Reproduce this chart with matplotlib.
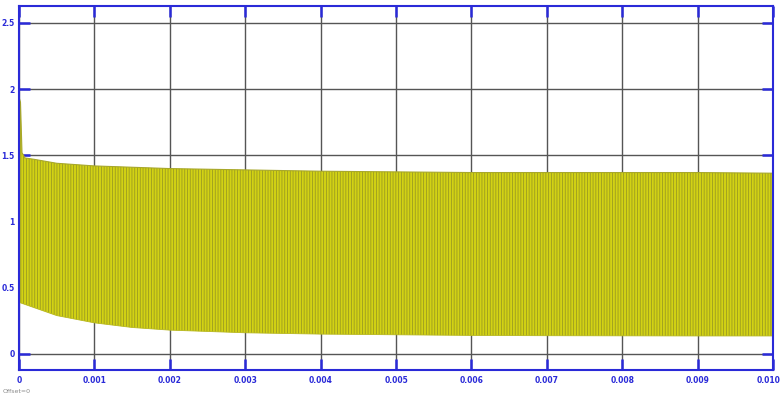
import matplotlib
matplotlib.use("Agg")
import matplotlib.pyplot as plt
import matplotlib.transforms as mtransforms
import numpy as np

# Envelope of the switched waveform (seconds, volts)
t_upper = [0.0, 0.00002, 0.00004, 0.00008, 0.0002, 0.0005, 0.001, 0.002,
           0.003, 0.004, 0.005, 0.006, 0.007, 0.008, 0.009, 0.010]
v_upper = [1.94, 1.90, 1.52, 1.48, 1.47, 1.44, 1.42, 1.40,
           1.39, 1.38, 1.375, 1.37, 1.37, 1.37, 1.37, 1.365]
t_lower = [0.0, 0.0002, 0.0005, 0.001, 0.0015, 0.002, 0.003, 0.004, 0.005,
           0.006, 0.007, 0.008, 0.009, 0.010]
v_lower = [0.39, 0.35, 0.29, 0.235, 0.20, 0.18, 0.16, 0.15, 0.145,
           0.14, 0.138, 0.137, 0.136, 0.136]

x_ticks = [0, 0.001, 0.002, 0.003, 0.004, 0.005, 0.006, 0.007, 0.008, 0.009, 0.010]
x_labels = ["0", "0.001", "0.002", "0.003", "0.004", "0.005", "0.006",
            "0.007", "0.008", "0.009", "0.010"]
y_ticks = [0, 0.5, 1, 1.5, 2, 2.5]
y_labels = ["0", "0.5", "1", "1.5", "2", "2.5"]

blue = "#2a2ad8"

fig = plt.figure(figsize=(7.81, 3.98), dpi=100)
ax = fig.add_axes([0.0243, 0.0704, 0.9655, 0.9146])

ax.set_xlim(0, 0.010)
ax.set_ylim(-0.121, 2.628)

ax.grid(True, color="#555555", linewidth=1.0, zorder=0)
ax.set_axisbelow(True)

# Shared time base for the band so both edges line up
t_band = np.union1d(t_upper, t_lower)
up = np.interp(t_band, t_upper, v_upper)
lo = np.interp(t_band, t_lower, v_lower)
plt.rcParams["hatch.linewidth"] = 0.6
ax.fill_between(t_band, lo, up, facecolor="#d2d214", edgecolor="#9a9a22",
                hatch="||||||", linewidth=0.0, zorder=2)
ax.plot(t_upper, v_upper, color="#a8a82a", linewidth=0.8, zorder=3)
ax.plot(t_lower, v_lower, color="#b8b820", linewidth=0.6, zorder=3)

ax.set_xticks(x_ticks)
ax.set_xticklabels(x_labels)
ax.set_yticks(y_ticks)
ax.set_yticklabels(y_labels)

ax.tick_params(axis="both", direction="in", length=8, width=1.8, color=blue,
               labelcolor=blue, labelsize=5.5, top=True, right=True)
ax.tick_params(axis="y", pad=3)
ax.tick_params(axis="x", pad=4)
for lbl in ax.get_xticklabels() + ax.get_yticklabels():
    lbl.set_fontweight("bold")

# keep the last x label inside the canvas
last = ax.get_xticklabels()[-1]
last.set_transform(last.get_transform() +
                   mtransforms.ScaledTranslation(-4 / 100, 0, fig.dpi_scale_trans))

for sp in ax.spines.values():
    sp.set_color(blue)
    sp.set_linewidth(1.5)
    sp.set_zorder(5)

fig.text(0.003, 0.012, "Offset=0", fontsize=4.5, color="#8a8a8a")

fig.savefig("out.png", dpi=100)
